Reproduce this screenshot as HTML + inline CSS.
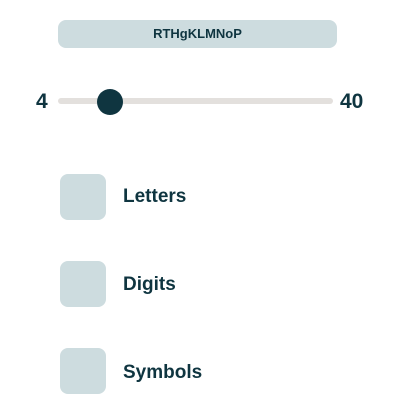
<!DOCTYPE html>
<html><head><style>
body{margin:0;width:402px;height:400px;background:#fff;position:relative;font-family:"Liberation Sans",sans-serif;color:#0f3540;overflow:hidden}
.a{position:absolute}
.box{position:absolute;left:60px;width:46px;height:46px;border-radius:8px;background:#cddcdf}
.lbl{position:absolute;left:123px;font-size:19px;line-height:22px;font-weight:bold}
</style></head><body>
<div class="a" style="left:58px;top:20px;width:279px;height:28px;border-radius:8px;background:#cddcdf;text-align:center;font-size:13px;line-height:28px;font-weight:bold">RTHgKLMNoP</div>
<div class="a" style="left:36px;top:90px;font-size:21px;line-height:24px;font-weight:bold">4</div>
<div class="a" style="left:340px;top:90px;font-size:21px;line-height:24px;font-weight:bold">40</div>
<div class="a" style="left:58px;top:98px;width:275px;height:6px;border-radius:3px;background:#e3e0dd"></div>
<div class="a" style="left:97px;top:89px;width:26px;height:26px;border-radius:50%;background:#0f3540"></div>
<div class="box" style="top:174px"></div><div class="lbl" style="top:186px">Letters</div>
<div class="box" style="top:261px"></div><div class="lbl" style="top:274px">Digits</div>
<div class="box" style="top:348px"></div><div class="lbl" style="top:362px">Symbols</div>
</body></html>
